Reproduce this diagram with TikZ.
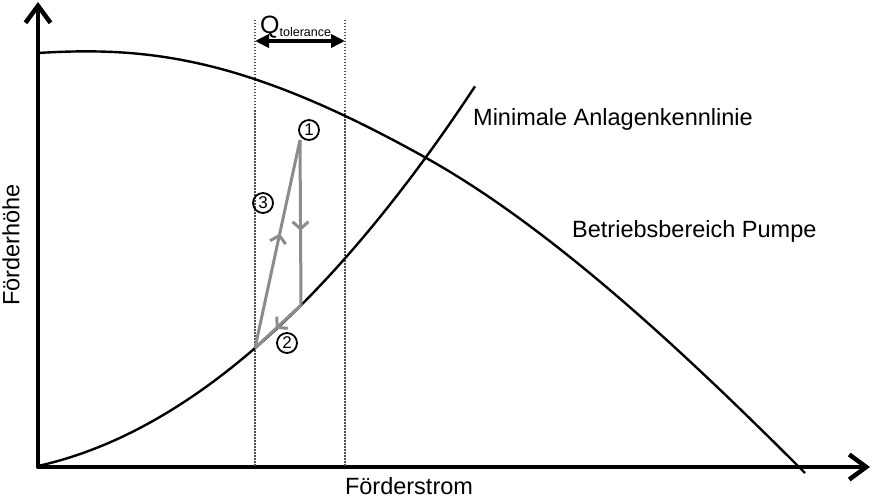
\documentclass[tikz,border=0pt]{standalone}
\usepackage{fontspec}
\setmainfont{Liberation Sans}
\usetikzlibrary{arrows.meta,decorations.markings}
\definecolor{cycgray}{gray}{0.55}
\begin{document}
\begin{tikzpicture}
            [x=1pt,y=-1pt,line join=round,
             every node/.style={font=\fontsize{23.5}{28}\selectfont,inner sep=0pt},
             axis/.style={line width=4.5pt,{Straight Barb[length=17pt,width=25pt]}-{Straight Barb[length=17pt,width=25pt]}},
             curve/.style={line width=2.4pt},
             tolline/.style={line width=1.8pt,black!70,dash pattern=on 1.5pt off 1.5pt},
             tolarrow/.style={line width=3.5pt,{Triangle[length=14pt,width=13pt]}-{Triangle[length=14pt,width=13pt]}},
             cyc/.style={cycgray,line width=3pt,postaction={decorate},
               decoration={markings,mark=at position .55 with {\arrow{Straight Barb[length=7pt,width=16pt]}}}},
             num/.style={circle,draw,line width=1.8pt,minimum size=20pt,font=\fontsize{17}{17}\selectfont}]
            \useasboundingbox (0,0) rectangle (872,500);
            % axes
            \coordinate (origin) at (38,467);
            \coordinate (ytip) at (38,2);
            \coordinate (xtip) at (870,467);
            \draw[axis] (ytip) -- (origin) -- (xtip);
            \node[rotate=90] (head) at (11,245) {Förderhöhe};
            \node (flow) at (409,486) {Förderstrom};
            % tolerance band
            \coordinate (qlo) at (255,20);
            \coordinate (qhi) at (345,20);
            \foreach \q in {qlo,qhi}
            \draw[tolline] (\q) -- (\q |- origin);
            \coordinate (tolL) at (255,41);
            \coordinate (tolR) at (345,41);
            \draw[tolarrow] (tolL) -- (tolR);
            \node[anchor=base west] (qtol) at (260,34) {\fontsize{25}{28}\selectfont Q\raisebox{-3pt}{\fontsize{12.5}{12}\selectfont tolerance}};
            % curves
            \coordinate (cross) at (428,159);
            \draw[curve] (38,53) .. controls (150,46) and (248,58) .. (cross)
                                 .. controls (558,232) and (695,363) .. (805,473);
            \draw[curve] plot[domain=0:4.37,samples=60] ({38+100*\x},{466-22.2*\x-14.8*\x*\x});
            \node[anchor=base west] (sys) at (473,125) {Minimale Anlagenkennlinie};
            \node[anchor=base west] (pump) at (572,237) {Betriebsbereich Pumpe};
            % cycle
            \coordinate (p1) at (300,140);
            \coordinate (p1b) at (301,305);
            \coordinate (p2) at (255,348);
            \foreach \from/\to in {p1/p1b,p1b/p2,p2/p1}
            \draw[cyc] (\from) -- (\to);
            \node[num] (n1) at (309,130) {1};
            \node[num] (n2) at (287,343) {2};
            \node[num] (n3) at (263,203) {3};
        \end{tikzpicture}
\end{document}
